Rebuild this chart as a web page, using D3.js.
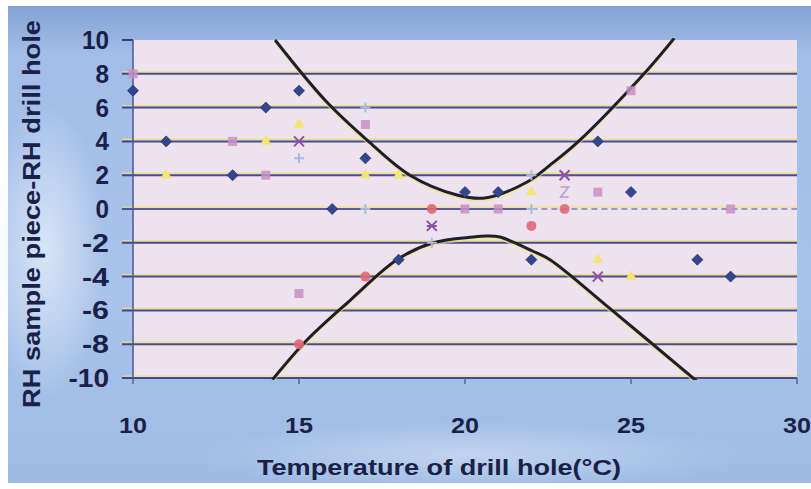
<!DOCTYPE html>
<html><head><meta charset="utf-8">
<script src="https://cdn.jsdelivr.net/npm/d3@7"></script>
<style>html,body{margin:0;padding:0;background:#fff;}svg{display:block;}</style>
</head><body>
<script>
// ---- data ----
const xTicks = [10, 15, 20, 25, 30];
const yTicks = [-10, -8, -6, -4, -2, 0, 2, 4, 6, 8, 10];
const diamondX = [10, 11, 13, 14, 15, 16, 17, 18, 20, 21, 22, 24, 25, 27, 28];
const diamondY = [7, 4, 2, 6, 7, 0, 3, -3, 1, 1, -3, 4, 1, -3, -4];
const squareX = [10, 13, 14, 15, 17, 20, 21, 24, 25, 28];
const squareY = [8, 4, 2, -5, 5, 0, 0, 1, 7, 0];
const triangleX = [11, 14, 15, 17, 18, 22, 24, 25];
const triangleY = [2, 4, 5, 2, 2, 1, -3, -4];
const crossX = [15, 19, 23, 24];
const crossY = [4, -1, 2, -4];
const plusX = [15, 17, 17, 19, 22, 22];
const plusY = [3, 0, 6, -2, 0, 2];
const circleX = [15, 17, 19, 22, 23];
const circleY = [-8, -4, 0, -1, 0];
const starX = [23];
const starY = [1];
const upperT = [14.28, 15.78, 17.05, 18.34, 19.76, 20.6, 21.87, 22.56, 23.46, 25.48, 26.3];
const upperV = [10, 6.45, 4.08, 2.0, 0.83, 0.65, 1.6, 2.6, 4.08, 8.2, 10.1];
const lowerT = [14.2, 15.24, 16.54, 17.95, 19.04, 20.24, 20.65, 21.05, 22.05, 22.56, 24.37, 26.99];
const lowerV = [-10.1, -7.75, -5.4, -3.0, -2.0, -1.66, -1.6, -1.66, -2.5, -3.0, -5.9, -10.2];

// ---- layout ----
const W = 811, H = 489;
const m = {left: 133, right: 797, top: 40, bottom: 378};
const svg = d3.select("body").append("svg").attr("width", W).attr("height", H);
const defs = svg.append("defs");

const bg = defs.append("linearGradient").attr("id", "bg").attr("x1", 0).attr("y1", 0).attr("x2", 0).attr("y2", 1);
bg.append("stop").attr("offset", "0").attr("stop-color", "#84a3d5");
bg.append("stop").attr("offset", "0.1").attr("stop-color", "#a2bde7");
bg.append("stop").attr("offset", "0.6").attr("stop-color", "#a9c3ea");
bg.append("stop").attr("offset", "1").attr("stop-color", "#9fbbe4");
const rg = defs.append("radialGradient").attr("id", "glow").attr("cx", 0.5).attr("cy", 0.5).attr("r", 0.5);
rg.append("stop").attr("offset", "0").attr("stop-color", "#e4eefa").attr("stop-opacity", 0.8);
rg.append("stop").attr("offset", "1").attr("stop-color", "#e4eefa").attr("stop-opacity", 0);

svg.append("rect").attr("x", 8).attr("y", 6).attr("width", W - 8).attr("height", 477).attr("fill", "url(#bg)");
svg.append("ellipse").attr("cx", 45).attr("cy", 250).attr("rx", 60).attr("ry", 150).attr("fill", "url(#glow)");
svg.append("ellipse").attr("cx", 470).attr("cy", 455).attr("rx", 280).attr("ry", 35).attr("fill", "url(#glow)").attr("opacity", 0.6);

const x = d3.scaleLinear().domain([10, 30]).range([m.left, m.right]);
const y = d3.scaleLinear().domain([-10, 10]).range([m.bottom, m.top]);

// plot area
svg.append("rect").attr("x", m.left).attr("y", m.top).attr("width", m.right - m.left).attr("height", m.bottom - m.top)
  .attr("fill", "#eee2ee");
defs.append("clipPath").attr("id", "clip").append("rect")
  .attr("x", m.left).attr("y", m.top - 2).attr("width", m.right - m.left).attr("height", m.bottom - m.top + 4);

// grid lines: yellow highlight + navy line
const grid = svg.append("g");
yTicks.forEach(t => {
  if (t === 10) return;
  grid.append("line").attr("x1", m.left - 11).attr("x2", m.right).attr("y1", y(t) - 2).attr("y2", y(t) - 2)
    .attr("stroke", "#efe070").attr("stroke-width", 1.2);
  if (t === 0) {
    grid.append("line").attr("x1", m.left - 11).attr("x2", x(22)).attr("y1", y(t)).attr("y2", y(t))
      .attr("stroke", "#333b88").attr("stroke-width", 2).attr("stroke-opacity", 0.8);
    grid.append("line").attr("x1", x(22)).attr("x2", m.right).attr("y1", y(t)).attr("y2", y(t))
      .attr("stroke", "#333b88").attr("stroke-width", 1.6).attr("stroke-opacity", 0.6).attr("stroke-dasharray", "6,4");
  } else {
    grid.append("line").attr("x1", m.left - 11).attr("x2", m.right).attr("y1", y(t)).attr("y2", y(t))
      .attr("stroke", "#333b88").attr("stroke-width", 2).attr("stroke-opacity", 0.9);
  }
});
// top tick
svg.append("line").attr("x1", m.left - 11).attr("x2", m.left).attr("y1", y(10)).attr("y2", y(10))
  .attr("stroke", "#333b88").attr("stroke-width", 2);
// y axis line
svg.append("line").attr("x1", m.left).attr("x2", m.left).attr("y1", m.top).attr("y2", m.bottom)
  .attr("stroke", "#4a5596").attr("stroke-width", 1.5);
// x axis ticks
xTicks.forEach(t => {
  svg.append("line").attr("x1", x(t)).attr("x2", x(t)).attr("y1", m.bottom).attr("y2", m.bottom + 6)
    .attr("stroke", "#4a5596").attr("stroke-width", 1.3);
});

// curves
const line = d3.line().x(d => x(d[0])).y(d => y(d[1])).curve(d3.curveCatmullRom);
const curves = svg.append("g").attr("clip-path", "url(#clip)");
[[upperT, upperV], [lowerT, lowerV]].forEach(([ts, vs]) => {
  const p = ts.map((t, i) => [t, vs[i]]);
  curves.append("path").attr("d", line(p)).attr("fill", "none").attr("stroke", "#f4e870")
    .attr("stroke-width", 2).attr("transform", "translate(0,2.5)").attr("opacity", 0.6);
  curves.append("path").attr("d", line(p)).attr("fill", "none").attr("stroke", "#1d1f2e")
    .attr("stroke-width", 3);
});

// markers
const mk = svg.append("g");
function pts(xs, ys) { return xs.map((v, i) => [x(v), y(ys[i])]); }
pts(diamondX, diamondY).forEach(([px, py]) => {
  mk.append("path").attr("d", `M${px},${py - 5.5}L${px + 5.5},${py}L${px},${py + 5.5}L${px - 5.5},${py}Z`)
    .attr("fill", "#34468c").attr("stroke", "#26307a").attr("stroke-width", 0.8);
});
pts(squareX, squareY).forEach(([px, py]) => {
  mk.append("rect").attr("x", px - 4.5).attr("y", py - 4.5).attr("width", 9).attr("height", 9)
    .attr("fill", "#c690c6").attr("opacity", 0.85);
});
pts(triangleX, triangleY).forEach(([px, py]) => {
  mk.append("path").attr("d", d3.symbol(d3.symbolTriangle, 55)()).attr("transform", `translate(${px},${py})`)
    .attr("fill", "#f2e476");
});
pts(crossX, crossY).forEach(([px, py]) => {
  mk.append("path").attr("d", `M${px - 5},${py - 5}L${px + 5},${py + 5}M${px + 5},${py - 5}L${px - 5},${py + 5}M${px - 5},${py}L${px + 5},${py}`)
    .attr("stroke", "#8a52a6").attr("stroke-width", 2).attr("fill", "none");
});
pts(plusX, plusY).forEach(([px, py]) => {
  mk.append("path").attr("d", `M${px - 5},${py}L${px + 5},${py}M${px},${py - 5}L${px},${py + 5}`)
    .attr("stroke", "#a9b9e2").attr("stroke-width", 2).attr("fill", "none");
});
pts(circleX, circleY).forEach(([px, py]) => {
  mk.append("circle").attr("cx", px).attr("cy", py).attr("r", 5).attr("fill", "#e06878").attr("opacity", 0.9);
});
pts(starX, starY).forEach(([px, py]) => {
  mk.append("path").attr("d", `M${px - 4},${py - 5}L${px + 4},${py - 5}L${px - 4},${py + 5}L${px + 4},${py + 5}`)
    .attr("stroke", "#b79ad0").attr("stroke-width", 1.5).attr("fill", "none");
});

// tick labels
const txt = svg.append("g").attr("font-family", "'Liberation Sans', Arial, sans-serif").attr("font-weight", "bold")
  .attr("fill", "#1a2148");
yTicks.forEach(t => {
  const s = String(t);
  txt.append("text").attr("x", 109).attr("y", y(t)).attr("dy", "0.36em").attr("text-anchor", "end")
    .attr("font-size", 25).attr("textLength", s.length * 13.5).attr("lengthAdjust", "spacingAndGlyphs").text(s);
});
xTicks.forEach(t => {
  const s = String(t);
  txt.append("text").attr("x", x(t)).attr("y", 433).attr("text-anchor", "middle")
    .attr("font-size", 22).attr("textLength", s.length * 14).attr("lengthAdjust", "spacingAndGlyphs").text(s);
});
txt.append("text").attr("x", 439).attr("y", 475).attr("text-anchor", "middle").attr("font-size", 22)
  .attr("textLength", 364).attr("lengthAdjust", "spacingAndGlyphs")
  .text("Temperature of drill hole(°C)");
txt.append("text").attr("transform", "translate(40,214) rotate(-90)").attr("text-anchor", "middle")
  .attr("font-size", 23).attr("textLength", 388).attr("lengthAdjust", "spacingAndGlyphs")
  .text("RH sample piece-RH drill hole");
</script>
</body></html>
